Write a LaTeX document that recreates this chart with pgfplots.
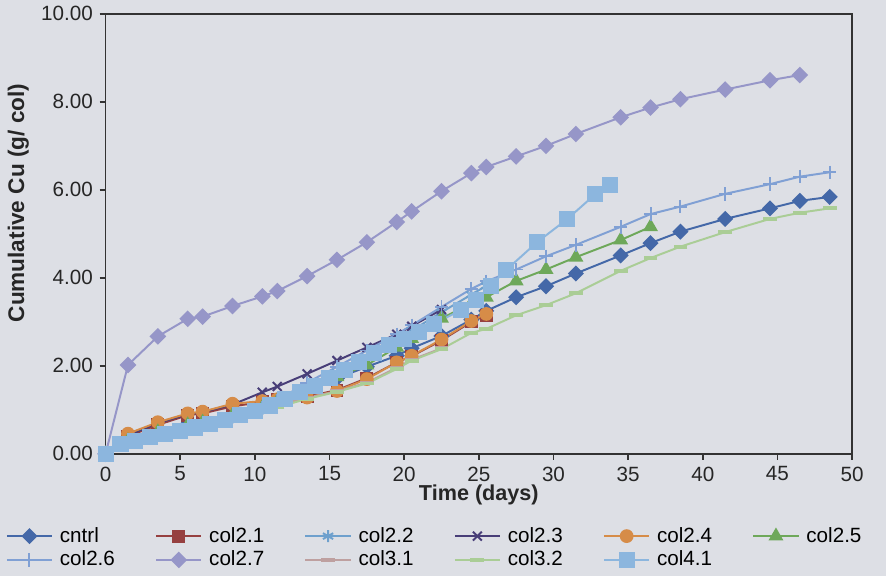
\documentclass[border=0pt]{standalone}
\usepackage{pgfplots}
\pgfplotsset{compat=1.18}
\usepackage{fontspec}
\setmainfont{Liberation Sans}
\usetikzlibrary{backgrounds}
\definecolor{bgc}{RGB}{221,223,229}
\definecolor{ccntrl}{RGB}{68,104,168}
\definecolor{ctwoone}{RGB}{150,64,64}
\definecolor{ctwotwo}{RGB}{110,160,205}
\definecolor{ctwothree}{RGB}{72,62,120}
\definecolor{ctwofour}{RGB}{214,140,72}
\definecolor{ctwofive}{RGB}{110,168,90}
\definecolor{ctwosix}{RGB}{128,160,212}
\definecolor{ctwoseven}{RGB}{150,150,200}
\definecolor{cthreeone}{RGB}{190,160,160}
\definecolor{cthreetwo}{RGB}{170,205,150}
\definecolor{cfourone}{RGB}{140,182,222}
\begin{document}
\begin{tikzpicture}[show background rectangle, background rectangle/.style={fill=bgc}, inner frame sep=0pt]
\begin{axis}[
  scale only axis, width=380pt, height=224pt,
  xmin=0, xmax=50, ymin=0, ymax=10,
  xtick={0,5,...,50}, ytick={0,2,...,10},
  tick align=outside, major tick length=3pt,
  xtick pos=bottom, ytick pos=left,
  axis line style={line width=0.9pt, black!80},
  tick style={line width=0.9pt, black!80},
  yticklabel style={/pgf/number format/.cd, fixed, fixed zerofill, precision=2},
  /pgf/number format/assume math mode=true,
  ticklabel style={font=\fontsize{10.5}{12}\selectfont, text=black!85},
  xlabel={\textbf{Time (days)}},
  ylabel={\textbf{Cumulative Cu (g/ col)}},
  xlabel style={font=\fontsize{11}{12}\selectfont, text=black!85, at={(axis description cs:0.5,-0.093)}, anchor=center},
  ylabel style={font=\fontsize{11.5}{12}\selectfont, text=black!85, at={(axis description cs:-0.117,0.57)}, anchor=center},
  axis background/.style={fill=bgc},
  legend columns=6,
  legend cell align=left,
  legend style={at={(axis description cs:0.452,-0.15)}, anchor=north, draw=none, fill=none,
    font=\fontsize{10.5}{12}\selectfont,
    nodes={text width=36pt, inner sep=1.5pt},
    /tikz/every odd column/.append style={column sep=2pt},
    /tikz/every even column/.append style={column sep=11pt}},
  legend image code/.code={\draw[mark repeat=2, mark phase=2] plot coordinates {(0pt,0pt) (11.5pt,0pt) (23pt,0pt)};},
  every axis plot/.append style={line width=1pt},
]
\addplot[color=ccntrl, mark=square*, mark size=2.4pt, mark options={solid, rotate=45, fill=ccntrl}] coordinates {
(0,0) (1.5,0.28) (3.5,0.5) (5.5,0.68) (6.5,0.75) (8.5,0.9) (10.5,1.08) (11.5,1.22) (13.5,1.45) (15.5,1.72) (17.5,1.98) (19.5,2.23) (20.5,2.40) (22.5,2.68) (24.5,3.05) (25.5,3.25) (27.5,3.56) (29.5,3.81) (31.5,4.10) (34.5,4.51) (36.5,4.79) (38.5,5.05) (41.5,5.34) (44.5,5.58) (46.5,5.75) (48.5,5.84)};
\addlegendentry{cntrl}
\addplot[color=ctwoone, mark=square*, mark size=2.8pt, mark options={solid, fill=ctwoone}] coordinates {
(0,0) (1.5,0.40) (3.5,0.66) (5.5,0.88) (6.5,0.92) (8.5,1.08) (10.5,1.18) (11.5,1.24) (13.5,1.30) (15.5,1.45) (17.5,1.72) (19.5,2.08) (20.5,2.22) (22.5,2.58) (24.5,3.00) (25.5,3.15)};
\addlegendentry{col2.1}
\addplot[color=ctwotwo, mark=asterisk, mark size=3pt, mark options={solid}] coordinates {
(0,0) (1.5,0.22) (3.5,0.42) (5.5,0.60) (6.5,0.66) (8.5,0.82) (10.5,1.02) (11.5,1.18) (13.5,1.50) (15.5,1.85) (17.5,2.20) (19.5,2.58) (20.5,2.80) (22.5,3.22) (24.5,3.62) (25.5,3.82)};
\addlegendentry{col2.2}
\addplot[color=ctwothree, mark=x, mark size=3.2pt, mark options={solid}] coordinates {
(0,0) (1.5,0.42) (3.5,0.70) (5.5,0.90) (6.5,0.95) (8.5,1.12) (10.5,1.40) (11.5,1.53) (13.5,1.82) (15.5,2.12) (17.5,2.42) (19.5,2.72) (20.5,2.90) (22.5,3.28)};
\addlegendentry{col2.3}
\addplot[color=ctwofour, mark=*, mark size=3pt, mark options={solid, fill=ctwofour}] coordinates {
(0,0) (1.5,0.46) (3.5,0.72) (5.5,0.92) (6.5,0.96) (8.5,1.14) (10.5,1.20) (11.5,1.24) (13.5,1.28) (15.5,1.43) (17.5,1.70) (19.5,2.08) (20.5,2.23) (22.5,2.60) (24.5,3.02) (25.5,3.18)};
\addlegendentry{col2.4}
\addplot[color=ctwofive, mark=triangle*, mark size=3.4pt, mark options={solid, fill=ctwofive}] coordinates {
(0,0) (1.5,0.30) (3.5,0.50) (5.5,0.66) (6.5,0.72) (8.5,0.88) (10.5,1.06) (11.5,1.20) (13.5,1.48) (15.5,1.75) (17.5,2.02) (19.5,2.42) (20.5,2.62) (22.5,3.08) (24.5,3.42) (25.5,3.56) (27.5,3.93) (29.5,4.19) (31.5,4.47) (34.5,4.86) (36.5,5.16)};
\addlegendentry{col2.5}
\addplot[color=ctwosix, mark=+, mark size=3.4pt, mark options={solid}] coordinates {
(0,0) (1.5,0.25) (3.5,0.45) (5.5,0.62) (6.5,0.68) (8.5,0.84) (10.5,1.04) (11.5,1.22) (13.5,1.62) (15.5,1.98) (17.5,2.35) (19.5,2.72) (20.5,2.92) (22.5,3.34) (24.5,3.75) (25.5,3.92) (27.5,4.19) (29.5,4.49) (31.5,4.75) (34.5,5.16) (36.5,5.45) (38.5,5.62) (41.5,5.91) (44.5,6.13) (46.5,6.30) (48.5,6.40)};
\addlegendentry{col2.6}
\addplot[color=ctwoseven, mark=square*, mark size=2.5pt, mark options={solid, rotate=45, fill=ctwoseven}] coordinates {
(0,0) (1.5,2.02) (3.5,2.67) (5.5,3.07) (6.5,3.12) (8.5,3.36) (10.5,3.58) (11.5,3.70) (13.5,4.04) (15.5,4.41) (17.5,4.81) (19.5,5.27) (20.5,5.51) (22.5,5.97) (24.5,6.38) (25.5,6.52) (27.5,6.76) (29.5,7.00) (31.5,7.27) (34.5,7.65) (36.5,7.87) (38.5,8.06) (41.5,8.28) (44.5,8.49) (46.5,8.61)};
\addlegendentry{col2.7}
\addplot[color=cthreeone, mark=-, mark size=3.5pt, mark options={solid, line width=2pt}] coordinates {
(0,0) (1.5,0.25) (3.5,0.45) (5.5,0.62) (6.5,0.68) (8.5,0.84) (10.5,1.00) (11.5,1.10) (13.5,1.28) (15.5,1.42) (17.5,1.62) (19.5,1.96) (20.5,2.14) (22.5,2.40)};
\addlegendentry{col3.1}
\addplot[color=cthreetwo, mark=-, mark size=3.5pt, mark options={solid, line width=2pt}] coordinates {
(0,0) (1.5,0.22) (3.5,0.42) (5.5,0.60) (6.5,0.65) (8.5,0.80) (10.5,0.96) (11.5,1.06) (13.5,1.25) (15.5,1.41) (17.5,1.60) (19.5,1.93) (20.5,2.12) (22.5,2.38) (24.5,2.75) (25.5,2.84) (27.5,3.15) (29.5,3.38) (31.5,3.65) (34.5,4.16) (36.5,4.45) (38.5,4.71) (41.5,5.04) (44.5,5.34) (46.5,5.48) (48.5,5.58)};
\addlegendentry{col3.2}
\addplot[color=cfourone, mark=square*, mark size=3.6pt, mark options={solid, fill=cfourone}] coordinates {
(0,0) (1,0.22) (2,0.30) (3,0.38) (4,0.45) (5,0.52) (6,0.60) (7,0.68) (8,0.78) (9,0.88) (10,0.98) (11,1.10) (12,1.25) (13,1.40) (14,1.55) (15,1.72) (16,1.90) (17,2.08) (18,2.30) (19,2.48) (20,2.62) (21,2.78) (22,2.95) (23.8,3.27) (24.8,3.50) (25.8,3.82) (26.8,4.17) (28.9,4.81) (30.9,5.33) (32.8,5.90) (33.8,6.12)};
\addlegendentry{col4.1}
\end{axis}
\end{tikzpicture}
\end{document}
